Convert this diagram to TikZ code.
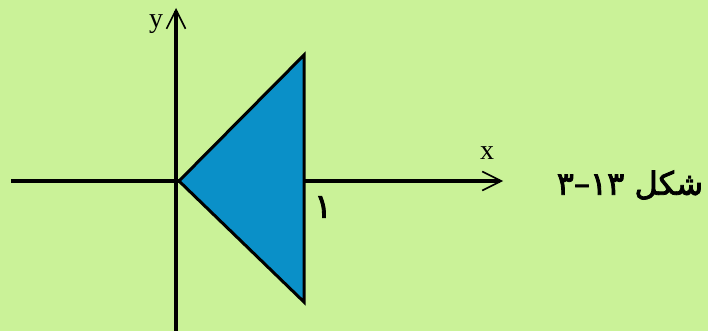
\documentclass[tikz,border=0pt]{standalone}
\usepackage{fontspec}
\setmainfont{Liberation Serif}
\newfontfamily\arabicfont[Script=Arabic,FakeBold=2.5]{DejaVu Sans}
\TeXXeTstate=1
\usetikzlibrary{arrows.meta}
\definecolor{bggreen}{RGB}{202,242,152}
\definecolor{triblue}{RGB}{10,144,200}
\tikzset{
  axis/.style={line width=3.5pt,-{Straight Barb[length=19pt,width=19pt,line width=1.6pt]}},
  lbl/.style={inner sep=0pt,font=\fontsize{28}{30}\selectfont},
  arlbl/.style={inner sep=0pt,font=\arabicfont\fontsize{32}{34}\selectfont},
  onelbl/.style={inner sep=0pt,font=\arabicfont\fontsize{34}{36}\selectfont},
}
\begin{document}
\begin{tikzpicture}[x=1pt,y=-1pt]
\fill[bggreen] (0,0) rectangle (708,331);
\useasboundingbox (0,0) rectangle (708,331);
\coordinate (O) at (179,181);
\coordinate (T) at (304,55);
\coordinate (B) at (304,302);
\coordinate (xl) at (11,181);
\coordinate (xr) at (503,181);
\coordinate (yb) at (176,331);
\coordinate (yt) at (176,8);
\draw[axis] (xl) -- (xr);
\draw[axis] (yb) -- (yt);
\filldraw[fill=triblue,draw=black,line width=3pt,line join=miter] (O) -- (T) -- (B) -- cycle;
\node[lbl] (ylab) at (156,24) {y};
\node[lbl] (xlab) at (487,153) {x};
\node[onelbl] (one) at (323,207) {\beginR ۱\endR};
\node[arlbl] (cap) at (630,185) {\beginR شکل \beginL ۱۳–۳\endL\endR};
\end{tikzpicture}
\end{document}
